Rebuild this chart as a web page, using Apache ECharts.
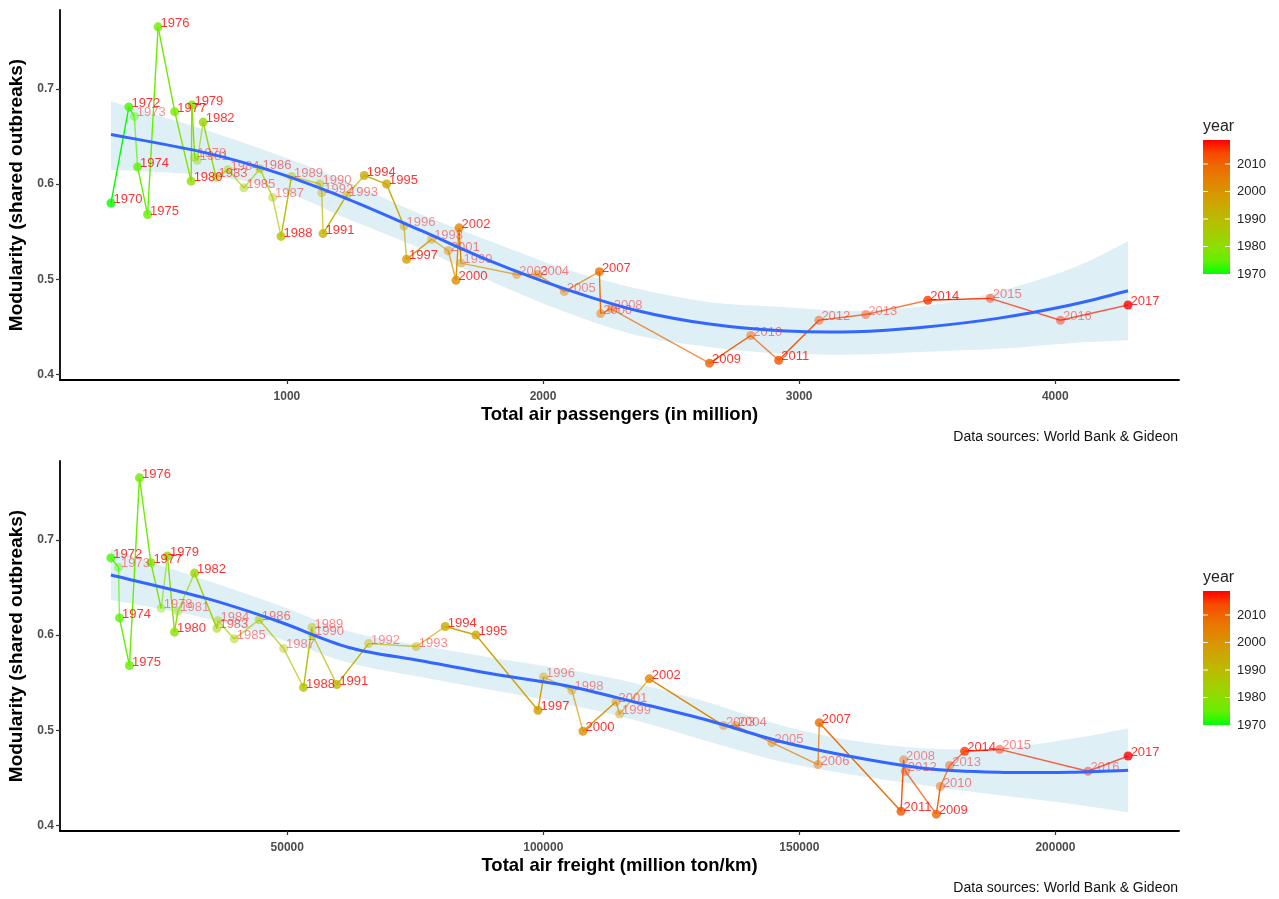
<!DOCTYPE html>
<html>
<head>
<meta charset="utf-8">
<script src="https://cdn.jsdelivr.net/npm/echarts@6/dist/echarts.min.js"></script>
<style>
html,body{margin:0;padding:0;background:#fff;}
#chart{width:1279px;height:899px;}
</style>
</head>
<body>
<div id="chart"></div>
<script>
// ---------------- DATA ----------------
const years = [1970,1972,1973,1974,1975,1976,1977,1978,1979,1980,1981,1982,1983,1984,1985,1986,1987,1988,1989,1990,1991,1992,1993,1994,1995,1996,1997,1998,1999,2000,2001,2002,2003,2004,2005,2006,2007,2008,2009,2010,2011,2012,2013,2014,2015,2016,2017];
const modularity = [0.580,0.681,0.671,0.618,0.568,0.765,0.676,0.628,0.683,0.603,0.625,0.665,0.607,0.615,0.596,0.616,0.586,0.545,0.608,0.600,0.548,0.591,0.588,0.609,0.600,0.556,0.521,0.542,0.517,0.499,0.530,0.554,0.505,0.505,0.487,0.464,0.508,0.469,0.412,0.441,0.415,0.457,0.463,0.478,0.480,0.457,0.473];
const passengers = [313,383,404,417,456,497,562,640,629,626,650,673,723,770,832,895,944,977,1018,1129,1141,1136,1233,1302,1389,1457,1467,1565,1680,1660,1630,1672,1897,1979,2083,2225,2220,2266,2650,2811,2920,3077,3260,3502,3746,4020,4284];
const freight = [null,15566,17050,17245,19200,21150,23380,25390,26620,27990,28640,31900,36270,36470,39650,44530,49280,53190,54820,54940,59700,65880,75200,80860,86850,100060,98960,105600,114900,107750,114200,120700,135200,137500,144650,153650,153900,170360,176750,177540,169850,170700,179350,182280,189110,206380,214200];
const alphaVals = [1,1,0.55,1,1,1,1,0.55,1,1,0.55,1,0.7,0.6,0.6,0.65,0.55,1,0.6,0.6,1,0.55,0.6,1,1,0.55,1,0.55,0.55,1,0.6,1,0.55,0.6,0.55,0.6,1,0.55,1,0.6,1,0.6,0.55,1,0.6,0.55,1];

// smooth fits
const paxFitX  = [313,680,960,1240,1525,1805,2085,2370,2650,2930,3215,3495,3775,4060,4284];
const paxFitY  = [0.652,0.633,0.612,0.584,0.551,0.518,0.490,0.467,0.453,0.446,0.445,0.450,0.459,0.473,0.488];
const paxFitLo = [0.615,0.609,0.595,0.563,0.532,0.497,0.466,0.441,0.429,0.422,0.421,0.424,0.427,0.433,0.436];
const paxFitHi = [0.687,0.657,0.631,0.602,0.568,0.539,0.511,0.490,0.476,0.471,0.467,0.472,0.487,0.511,0.540];

const frtFitX  = [15566,33870,47950,62030,76110,90200,104280,118360,132440,146520,160600,174690,188770,202850,214200];
const frtFitY  = [0.663,0.639,0.615,0.587,0.573,0.559,0.547,0.529,0.510,0.488,0.472,0.460,0.456,0.456,0.458];
const frtFitLo = [0.637,0.618,0.597,0.571,0.556,0.542,0.528,0.510,0.488,0.467,0.453,0.442,0.432,0.423,0.414];
const frtFitHi = [0.690,0.658,0.632,0.604,0.589,0.576,0.564,0.549,0.529,0.505,0.489,0.481,0.481,0.491,0.502];

const paxTicks = [1000,2000,3000,4000];
const frtTicks = [50000,100000,150000,200000];
const yTicks = [0.4,0.5,0.6,0.7];
const legendYears = [1970,1980,1990,2000,2010];

// ---------------- COLOUR (Lab gradient green -> red) ----------------
function toLin(c){c/=255;return c<=0.04045?c/12.92:Math.pow((c+0.055)/1.055,2.4);}
function fromLin(c){c=c<=0.0031308?12.92*c:1.055*Math.pow(c,1/2.4)-0.055;return Math.max(0,Math.min(255,Math.round(c*255)));}
const WN=[0.95047,1,1.08883];
function rgb2lab(rgb){
  const R=toLin(rgb[0]),G=toLin(rgb[1]),B=toLin(rgb[2]);
  const X=(0.4124564*R+0.3575761*G+0.1804375*B)/WN[0];
  const Y=(0.2126729*R+0.7151522*G+0.0721750*B)/WN[1];
  const Z=(0.0193339*R+0.1191920*G+0.9503041*B)/WN[2];
  const f=t=>t>0.008856?Math.cbrt(t):7.787*t+16/116;
  const fx=f(X),fy=f(Y),fz=f(Z);
  return [116*fy-16,500*(fx-fy),200*(fy-fz)];
}
function lab2rgb(lab){
  const fy=(lab[0]+16)/116, fx=fy+lab[1]/500, fz=fy-lab[2]/200;
  const fi=t=>t>0.206893?t*t*t:(t-16/116)/7.787;
  const X=fi(fx)*WN[0],Y=fi(fy)*WN[1],Z=fi(fz)*WN[2];
  const R=3.2404542*X-1.5371385*Y-0.4985314*Z;
  const G=-0.9692660*X+1.8760108*Y+0.0415560*Z;
  const B=0.0556434*X-0.2040259*Y+1.0572252*Z;
  return [fromLin(R),fromLin(G),fromLin(B)];
}
const LOW=rgb2lab([0,255,0]), HIGH=rgb2lab([255,0,0]);
const YMIN=1970, YMAX=2017;
function yearRGB(yr){
  const t=Math.max(0,Math.min(1,(yr-YMIN)/(YMAX-YMIN)));
  return lab2rgb([0,1,2].map(k=>LOW[k]+(HIGH[k]-LOW[k])*t));
}
function rgba(c,a){return 'rgba('+c[0]+','+c[1]+','+c[2]+','+a+')';}

// Catmull-Rom -> cubic bezier path pieces (pixel space)
function splinePath(pts, moveFirst){
  let d = (moveFirst?'M':'L') + pts[0][0].toFixed(2)+' '+pts[0][1].toFixed(2);
  for(let i=0;i<pts.length-1;i++){
    const p0=pts[Math.max(0,i-1)], p1=pts[i], p2=pts[i+1], p3=pts[Math.min(pts.length-1,i+2)];
    const c1=[p1[0]+(p2[0]-p0[0])/6, p1[1]+(p2[1]-p0[1])/6];
    const c2=[p2[0]-(p3[0]-p1[0])/6, p2[1]-(p3[1]-p1[1])/6];
    d+=' C'+c1[0].toFixed(2)+' '+c1[1].toFixed(2)+' '+c2[0].toFixed(2)+' '+c2[1].toFixed(2)+' '+p2[0].toFixed(2)+' '+p2[1].toFixed(2);
  }
  return d;
}

// ---------------- SERIES BUILDERS ----------------
function sortedIdx(xs){
  return years.map((_,i)=>i).filter(i=>xs[i]!=null).sort((a,b)=>(xs[a]-xs[b])||(a-b));
}
function buildSeries(xs, fitX, fitY, fitLo, fitHi, gi){
  const idx=sortedIdx(xs);
  const segs=[];
  for(let k=0;k<idx.length-1;k++){
    const i=idx[k], j=idx[k+1];
    segs.push([xs[i],modularity[i],xs[j],modularity[j],i]);
  }
  const pts=idx.map(i=>{
    const c=yearRGB(years[i]);
    return {name:String(years[i]),value:[xs[i],modularity[i]],
      itemStyle:{color:rgba(c,alphaVals[i])},
      label:{color:'rgba(255,0,0,'+alphaVals[i]+')'}};
  });
  return [
    {type:'custom',xAxisIndex:gi,yAxisIndex:gi,z:1,silent:true,
     encode:{x:0,y:1},data:[[fitX[0],fitLo[0]]],
     renderItem:function(params,api){
       const up=fitX.map((x,k)=>api.coord([x,fitHi[k]]));
       const lo=fitX.map((x,k)=>api.coord([x,fitLo[k]])).reverse();
       const d=splinePath(up,true)+' '+splinePath(lo,false)+' Z';
       return {type:'path',shape:{pathData:d},style:{fill:'rgba(173,216,230,0.4)',stroke:null}};
     }},
    {type:'custom',xAxisIndex:gi,yAxisIndex:gi,z:2,silent:true,
     encode:{x:[0,2],y:[1,3]},data:segs,
     renderItem:function(params,api){
       const p1=api.coord([api.value(0),api.value(1)]);
       const p2=api.coord([api.value(2),api.value(3)]);
       const i=api.value(4);
       const c=yearRGB(years[i]);
       return {type:'line',shape:{x1:p1[0],y1:p1[1],x2:p2[0],y2:p2[1]},
         style:{stroke:rgba(c,Math.min(1,alphaVals[i]+0.15)),lineWidth:1.4}};
     }},
    {type:'scatter',xAxisIndex:gi,yAxisIndex:gi,z:3,symbolSize:9,silent:true,data:pts,
     label:{show:true,formatter:p=>p.name,position:[7,1],align:'left',verticalAlign:'middle',
       fontSize:13,fontFamily:'Liberation Sans, Arial, sans-serif'}},
    {type:'custom',xAxisIndex:gi,yAxisIndex:gi,z:4,silent:true,
     encode:{x:0,y:1},data:[[fitX[0],fitY[0]]],
     renderItem:function(params,api){
       const p=fitX.map((x,k)=>api.coord([x,fitY[k]]));
       return {type:'path',shape:{pathData:splinePath(p,true)},
         style:{fill:null,stroke:'#3366FF',lineWidth:3}};
     }}
  ];
}

const FONT='Liberation Sans, Arial, sans-serif';
function xAxisCfg(gi,min,max,ticks,name){
  return {type:'value',gridIndex:gi,min:min,max:max,name:name,nameLocation:'middle',nameGap:25,
    nameTextStyle:{fontSize:18.5,fontWeight:'bold',color:'#000',fontFamily:FONT},
    splitLine:{show:false},
    axisLine:{show:true,onZero:false,lineStyle:{color:'#000',width:1.8}},
    axisTick:{show:true,length:4,customValues:ticks,lineStyle:{color:'#333',width:1.2}},
    axisLabel:{customValues:ticks,margin:11,fontSize:12,fontWeight:'bold',color:'#4d4d4d',fontFamily:FONT,
      formatter:v=>String(v)}};
}
function yAxisCfg(gi){
  return {type:'value',gridIndex:gi,min:0.3943,max:0.7827,name:'Modularity (shared outbreaks)',
    nameLocation:'middle',nameGap:33,
    nameTextStyle:{fontSize:19,fontWeight:'bold',color:'#000',fontFamily:FONT},
    splitLine:{show:false},
    axisLine:{show:true,onZero:false,lineStyle:{color:'#000',width:1.8}},
    axisTick:{show:true,length:4,customValues:yTicks,lineStyle:{color:'#333',width:1.2}},
    axisLabel:{customValues:yTicks,margin:6,fontSize:12,fontWeight:'bold',color:'#4d4d4d',fontFamily:FONT,
      formatter:v=>v.toFixed(1)}};
}

// legend (colour bar) built as graphics
function legendGraphics(top){
  const barTop=top+140, barBot=top+274, bx=1203, bw=27;
  const stops=[];
  for(let k=0;k<=10;k++){
    const yr=YMAX-(YMAX-YMIN)*k/10;
    stops.push({offset:k/10,color:rgba(yearRGB(yr),1)});
  }
  const els=[
    {type:'text',x:bx,y:top+127,style:{text:'year',font:'16px '+FONT,fill:'#222',verticalAlign:'middle',align:'left'}},
    {type:'rect',shape:{x:bx,y:barTop,width:bw,height:barBot-barTop},
     style:{fill:{type:'linear',x:0,y:0,x2:0,y2:1,colorStops:stops}}}
  ];
  legendYears.forEach(yr=>{
    const y=barBot-(yr-1970)*2.75;
    if(yr>1970){
      els.push({type:'line',shape:{x1:bx,y1:y,x2:bx+5,y2:y},style:{stroke:'#fff',lineWidth:1}});
      els.push({type:'line',shape:{x1:bx+bw-5,y1:y,x2:bx+bw,y2:y},style:{stroke:'#fff',lineWidth:1}});
    }
    els.push({type:'text',x:bx+bw+7,y:y,style:{text:String(yr),font:'13px '+FONT,fill:'#222',verticalAlign:'middle',align:'left'}});
  });
  return els;
}

const option={
  animation:false,
  backgroundColor:'#fff',
  grid:[
    {left:60,top:10,width:1119,height:370,outerBoundsMode:'none',containLabel:false},
    {left:60,top:461,width:1119,height:370,outerBoundsMode:'none',containLabel:false}
  ],
  xAxis:[
    xAxisCfg(0,114,4483,paxTicks,'Total air passengers (in million)'),
    xAxisCfg(1,5634,224132,frtTicks,'Total air freight (million ton/km)')
  ],
  yAxis:[yAxisCfg(0),yAxisCfg(1)],
  series:[].concat(
    buildSeries(passengers,paxFitX,paxFitY,paxFitLo,paxFitHi,0),
    buildSeries(freight,frtFitX,frtFitY,frtFitLo,frtFitHi,1)
  ),
  graphic:[].concat(
    legendGraphics(0),
    legendGraphics(451),
    [
      {type:'text',x:1178,y:437,style:{text:'Data sources: World Bank & Gideon',font:'14px '+FONT,fill:'#111',align:'right',verticalAlign:'middle'}},
      {type:'text',x:1178,y:888,style:{text:'Data sources: World Bank & Gideon',font:'14px '+FONT,fill:'#111',align:'right',verticalAlign:'middle'}}
    ]
  )
};
const chart=echarts.init(document.getElementById('chart'),null,{renderer:'canvas'});
chart.setOption(option);
</script>
</body>
</html>
